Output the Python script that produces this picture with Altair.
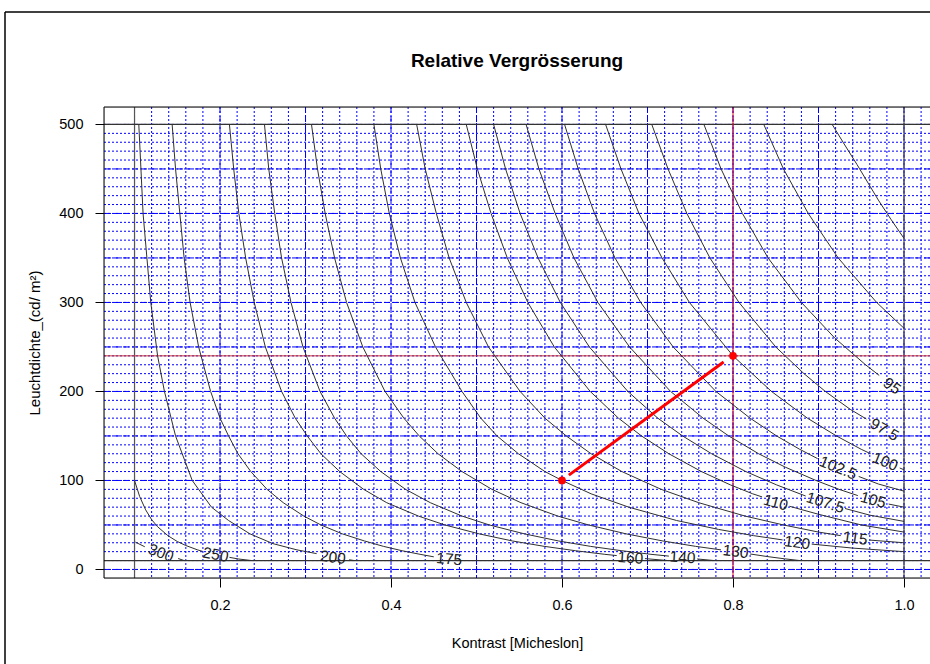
import altair as alt
import pandas as pd

TITLE = "Relative Vergrösserung"
X_TITLE = "Kontrast [Micheslon]"
Y_TITLE = "Leuchtdichte_(cd/ m²)"

# ---- contour curves (contrast C, luminance L); "a" = before label, "b" = after label ----
c300a = [0.101, 0.112]; l300a = [30.7, 25.5]
c300b = [0.151, 0.158]; l300b = [12.3, 10]

c250a = [0.100, 0.106, 0.113, 0.120, 0.127, 0.139, 0.150, 0.160, 0.174, 0.180]
l250a = [100, 82, 67, 56, 48, 38, 31.4, 26.9, 21.9, 20.2]
c250b = [0.211, 0.222, 0.237]; l250b = [13.6, 11.7, 10]

c200a = [0.105, 0.110, 0.119, 0.127, 0.135, 0.148, 0.1675, 0.190, 0.210, 0.235, 0.262, 0.290, 0.313]
l200a = [500, 400, 300, 240, 200, 150, 100, 70, 55, 40, 29, 22, 17.8]
c200b = [0.351, 0.357]; l200b = [10.9, 10]

c175a = [0.144, 0.148, 0.153, 0.158, 0.165, 0.175, 0.189, 0.200, 0.210, 0.221, 0.236, 0.255,
         0.274, 0.298, 0.318, 0.343, 0.369, 0.391, 0.413, 0.434, 0.450]
l175a = [500, 450, 400, 350, 300, 250, 200, 170, 150, 130, 110, 90, 75, 60, 50, 40, 32, 26, 21, 17, 14.2]

c160a = [0.211, 0.216, 0.222, 0.230, 0.240, 0.253, 0.272, 0.288, 0.302, 0.318, 0.340, 0.368,
         0.395, 0.432, 0.463, 0.503, 0.542, 0.579, 0.616, 0.650, 0.664]
l160a = [500, 450, 400, 350, 300, 250, 200, 170, 150, 130, 110, 90, 75, 60, 50, 40, 32, 26, 21, 17, 15.6]
c160b = [0.697, 0.724]; l160b = [12.2, 10]

c140a = [0.252, 0.257, 0.264, 0.272, 0.283, 0.297, 0.317, 0.334, 0.348, 0.365, 0.388, 0.417,
         0.446, 0.483, 0.515, 0.556, 0.596, 0.633, 0.670, 0.704, 0.725]
l140a = [500, 450, 400, 350, 300, 250, 200, 170, 150, 130, 110, 90, 75, 60, 50, 40, 32, 26, 21, 17, 15]
c140b = [0.758, 0.778]; l140b = [11.8, 10]

c130a = [0.307, 0.314, 0.323, 0.334, 0.348, 0.367, 0.393, 0.415, 0.433, 0.455, 0.483, 0.518,
         0.552, 0.595, 0.631, 0.675, 0.718, 0.756, 0.786]
l130a = [500, 450, 400, 350, 300, 250, 200, 170, 150, 130, 110, 90, 75, 60, 50, 40, 32, 26, 22]
c130b = [0.820, 0.840, 0.860, 0.878]; l130b = [17.4, 14.5, 12, 10]

c120a = [0.380, 0.388, 0.398, 0.411, 0.428, 0.452, 0.483, 0.505, 0.524, 0.549, 0.580, 0.600,
         0.634, 0.678, 0.734, 0.783, 0.824, 0.858]
l120a = [500, 450, 400, 350, 300, 250, 200, 170, 150, 130, 110, 100, 85, 70, 55, 45, 38, 33.2]
c120b = [0.892, 0.940, 1.000]; l120b = [28.5, 24, 20]

c115a = [0.430, 0.440, 0.453, 0.468, 0.488, 0.514, 0.551, 0.580, 0.605, 0.634, 0.670, 0.716,
         0.760, 0.814, 0.859, 0.900, 0.926]
l115a = [500, 450, 400, 350, 300, 250, 200, 170, 150, 130, 110, 90, 75, 60, 50, 42, 38]
c115b = [0.960, 1.000]; l115b = [33, 30]

c110a = [0.488, 0.501, 0.517, 0.536, 0.560, 0.591, 0.633, 0.666, 0.693, 0.725, 0.763, 0.797,
         0.823, 0.834]
l110a = [500, 450, 400, 350, 300, 250, 200, 170, 150, 130, 110, 95, 85, 81.5]
c110b = [0.866, 0.900, 0.950, 1.000]; l110b = [71, 62, 50, 42]

c107a = [0.520, 0.534, 0.551, 0.572, 0.598, 0.632, 0.677, 0.712, 0.741, 0.775, 0.815, 0.851,
         0.870, 0.885]
l107a = [500, 450, 400, 350, 300, 250, 200, 170, 150, 130, 110, 95, 88, 82.5]
c107b = [0.931, 0.960, 1.000]; l107b = [68.5, 61, 54]

c105a = [0.558, 0.573, 0.592, 0.614, 0.642, 0.679, 0.727, 0.765, 0.795, 0.830, 0.861, 0.897,
         0.924, 0.946]
l105a = [500, 450, 400, 350, 300, 250, 200, 170, 150, 130, 115, 100, 90, 83]
c105b = [0.982, 1.000]; l105b = [73.5, 70]

c102a = [0.603, 0.619, 0.638, 0.662, 0.692, 0.730, 0.780, 0.820, 0.851, 0.878, 0.899]
l102a = [500, 450, 400, 350, 300, 250, 200, 170, 150, 135, 124.5]
c102b = [0.947, 0.970, 1.000]; l102b = [104.5, 96, 88]

c100a = [0.651, 0.669, 0.690, 0.717, 0.749, 0.800, 0.845, 0.887, 0.921, 0.950, 0.961]
l100a = [500, 450, 400, 350, 300, 240, 200, 170, 150, 135, 130]
c100b = [0.995, 1.000]; l100b = [114, 112]

c97a = [0.705, 0.724, 0.746, 0.773, 0.807, 0.850, 0.883, 0.908, 0.937, 0.956]
l97a = [500, 450, 400, 350, 300, 250, 220, 200, 180, 169]

c95a = [0.766, 0.786, 0.811, 0.841, 0.880, 0.919, 0.955, 0.971]
l95a = [500, 450, 400, 350, 300, 260, 230, 218]

c92a = [0.836, 0.859, 0.888, 0.923, 0.968, 1.000]
l92a = [500, 450, 400, 350, 300, 271]

c90a = [0.916, 0.930, 0.945, 0.970, 0.985, 1.000]
l90a = [500, 478, 455, 415, 393, 372]

# ---- contour labels ----
lab_text = ["300", "250", "200", "175", "160", "140", "130", "120", "115", "110",
            "107.5", "105", "102.5", "100", "97.5", "95"]
lab_c = [0.131, 0.195, 0.332, 0.468, 0.680, 0.741, 0.803, 0.875, 0.943, 0.850,
         0.908, 0.964, 0.923, 0.978, 0.977, 0.986]
lab_l = [18.5, 16.5, 13.5, 11.5, 13, 13.5, 20, 30, 35, 75, 75, 78, 114, 121, 157, 206]
lab_ang = [20, 11, 7, 5, 4, 4, 7, 8, 8, 15, 17, 15, 22, 22, 30, 35]

# ---- reference points / annotations ----
pt_c = [0.6, 0.8]
pt_l = [100, 240]
seg_c = [0.608, 0.789]
seg_l = [106, 233]
red_v = [0.8]
red_h = [240]
box_v = [0.1, 1.0]
box_h = [10, 500]

x_ticks = [0.2, 0.4, 0.6, 0.8, 1.0]
y_ticks = [0, 100, 200, 300, 400, 500]

grid_x_dash = [round(0.1 * i, 2) for i in range(1, 12)]
grid_x_dot = [round(0.1 + 0.02 * i, 2) for i in range(0, 51)]
grid_y_dash = [50 * i for i in range(0, 11)]
grid_y_dot = [10 * i for i in range(0, 51)]

curves = [
    ("300a", c300a, l300a), ("300b", c300b, l300b),
    ("250a", c250a, l250a), ("250b", c250b, l250b),
    ("200a", c200a, l200a), ("200b", c200b, l200b),
    ("175a", c175a, l175a),
    ("160a", c160a, l160a), ("160b", c160b, l160b),
    ("140a", c140a, l140a), ("140b", c140b, l140b),
    ("130a", c130a, l130a), ("130b", c130b, l130b),
    ("120a", c120a, l120a), ("120b", c120b, l120b),
    ("115a", c115a, l115a), ("115b", c115b, l115b),
    ("110a", c110a, l110a), ("110b", c110b, l110b),
    ("107a", c107a, l107a), ("107b", c107b, l107b),
    ("105a", c105a, l105a), ("105b", c105b, l105b),
    ("102a", c102a, l102a), ("102b", c102b, l102b),
    ("100a", c100a, l100a), ("100b", c100b, l100b),
    ("97a", c97a, l97a),
    ("95a", c95a, l95a), ("92a", c92a, l92a), ("90a", c90a, l90a),
]
rows = []
for name, cs, ls in curves:
    for i, (c, l) in enumerate(zip(cs, ls)):
        rows.append({"seg": name, "i": i, "c": c, "l": l})
lines_df = pd.DataFrame(rows)

W, H = 826, 471
xs = alt.Scale(domain=[0.0643, 1.0304], nice=False, zero=False)
ys = alt.Scale(domain=[-9.6, 519.6], nice=False, zero=False)
FONT = "Liberation Sans"

x_axis = alt.Axis(values=x_ticks, format=".1f", title=X_TITLE, grid=False, domain=False,
                  tickSize=9, tickColor="black", labelPadding=11, labelFontSize=14.5,
                  labelColor="black", titleFontSize=14.5, titleFontWeight="normal",
                  titleColor="black", titlePadding=25, labelFont=FONT, titleFont=FONT)
y_axis = alt.Axis(values=y_ticks, format="d", title=Y_TITLE, grid=False, domain=False,
                  tickSize=9, tickColor="black", labelPadding=12, labelFontSize=14.5,
                  labelColor="black", titleFontSize=15, titleFontWeight="normal",
                  titleColor="black", titlePadding=16, labelFont=FONT, titleFont=FONT)


def X(f="c:Q"):
    return alt.X(f, scale=xs, axis=x_axis)


def Y(f="l:Q"):
    return alt.Y(f, scale=ys, axis=y_axis)


blue = "#0000ff"
vdot = alt.Chart(pd.DataFrame({"c": grid_x_dot})).mark_rule(
    color=blue, strokeWidth=1, strokeDash=[2, 2]).encode(x=X())
hdot = alt.Chart(pd.DataFrame({"l": grid_y_dot})).mark_rule(
    color=blue, strokeWidth=1, strokeDash=[2, 2]).encode(y=Y())
vdash = alt.Chart(pd.DataFrame({"c": grid_x_dash})).mark_rule(
    color=blue, strokeWidth=1, strokeDash=[6, 3]).encode(x=X())
hdash = alt.Chart(pd.DataFrame({"l": grid_y_dash})).mark_rule(
    color=blue, strokeWidth=1, strokeDash=[6, 3]).encode(y=Y())

bv = alt.Chart(pd.DataFrame({"c": box_v})).mark_rule(color="#555555", strokeWidth=1.2).encode(x=X())
bh = alt.Chart(pd.DataFrame({"l": box_h})).mark_rule(color="#333333", strokeWidth=1.2).encode(y=Y())
rv = alt.Chart(pd.DataFrame({"c": red_v})).mark_rule(color="#ee1111", strokeWidth=1).encode(x=X())
rh = alt.Chart(pd.DataFrame({"l": red_h})).mark_rule(color="#cc3333", strokeWidth=1).encode(y=Y())

contours = alt.Chart(lines_df).mark_line(color="#303030", strokeWidth=1, clip=True).encode(
    x=X(), y=Y(), detail="seg:N", order="i:Q",
)
labels = alt.Chart(pd.DataFrame({"t": lab_text, "c": lab_c, "l": lab_l, "a": lab_ang})).mark_text(
    font=FONT, fontSize=15.5, color="#222222").encode(
    x=X(), y=Y(), text="t:N", angle=alt.Angle("a:Q", scale=None),
)
seg = alt.Chart(pd.DataFrame({"c": seg_c, "l": seg_l})).mark_line(color="red", strokeWidth=3).encode(
    x=X(), y=Y())
pts = alt.Chart(pd.DataFrame({"c": pt_c, "l": pt_l})).mark_point(
    filled=True, color="red", size=60, opacity=1).encode(x=X(), y=Y())

frame_src = pd.DataFrame({"k": [0]})
box_left = alt.Chart(frame_src).mark_rule(color="black", strokeWidth=1).encode(
    x=alt.value(0), y=alt.value(0), y2=alt.value(H))
box_top = alt.Chart(frame_src).mark_rule(color="black", strokeWidth=1).encode(
    x=alt.value(0), x2=alt.value(W), y=alt.value(0))
box_bot = alt.Chart(frame_src).mark_rule(color="black", strokeWidth=1).encode(
    x=alt.value(0), x2=alt.value(W), y=alt.value(H))
outer_left = alt.Chart(frame_src).mark_rule(color="black", strokeWidth=1.5).encode(
    x=alt.value(-99), y=alt.value(-95), y2=alt.value(557))
outer_top = alt.Chart(frame_src).mark_rule(color="black", strokeWidth=1.5).encode(
    x=alt.value(-99), x2=alt.value(W), y=alt.value(-95))
title_txt = alt.Chart(pd.DataFrame({"t": [TITLE]})).mark_text(
    font=FONT, fontSize=19, fontWeight="bold", color="black", baseline="middle", align="center"
).encode(x=alt.value(W / 2), y=alt.value(-46), text="t:N")

chart = alt.layer(
    vdot, hdot, vdash, hdash, bv, bh, rv, rh, contours, labels, seg, pts,
    box_left, box_top, box_bot, outer_left, outer_top, title_txt,
).properties(
    width=W, height=H,
    padding={"left": 104, "top": 107, "right": 0, "bottom": 86},
    autosize=alt.AutoSizeParams(type="none"),
).configure_view(stroke=None).configure(background="white")

chart.save("out.html", embed_options={"renderer": "svg", "actions": False})
